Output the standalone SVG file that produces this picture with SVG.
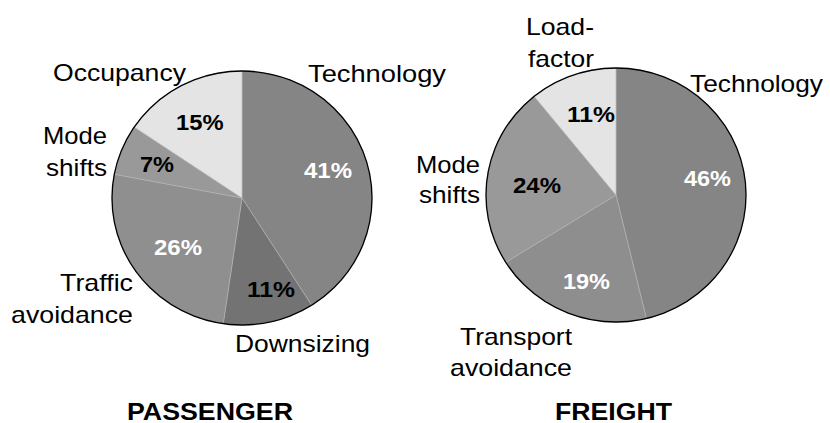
<svg xmlns="http://www.w3.org/2000/svg" width="830" height="423" viewBox="0 0 830 423">
<style>
.lbl{font-family:"Liberation Sans",Arial,sans-serif;font-size:24px;fill:#000}
.pct{font-family:"Liberation Sans",Arial,sans-serif;font-size:22px;font-weight:bold}
.ttl{font-family:"Liberation Sans",Arial,sans-serif;font-size:24px;font-weight:bold;fill:#000}
.w{fill:#fff}.k{fill:#000}
.sl{stroke:#b4b4b4;stroke-width:0.6}
.rim{fill:none;stroke:#000;stroke-width:1.3}
</style>
<rect width="830" height="423" fill="#fff"/>
<g id="passenger">
  <g id="p-technology">
    <path class="sl" fill="#858585" d="M242,198 L242,71 A130,127 0 0 1 311.65,305.23 Z"/>
  </g>
  <g id="p-downsizing">
    <path class="sl" fill="#737373" d="M242,198 L311.65,305.23 A130,127 0 0 1 223.23,323.67 Z"/>
  </g>
  <g id="p-traffic">
    <path class="sl" fill="#8f8f8f" d="M242,198 L223.23,323.67 A130,127 0 0 1 114.3,174.2 Z"/>
  </g>
  <g id="p-mode">
    <path class="sl" fill="#999999" d="M242,198 L114.3,174.2 A130,127 0 0 1 134.23,126.98 Z"/>
  </g>
  <g id="p-occupancy">
    <path class="sl" fill="#e4e4e4" d="M242,198 L134.23,126.98 A130,127 0 0 1 242,71 Z"/>
  </g>
  <ellipse class="rim" cx="242" cy="198" rx="130" ry="127"/>
  <text class="pct w" x="304" y="178" textLength="48" lengthAdjust="spacingAndGlyphs">41%</text>
  <text class="pct k" x="247" y="297" textLength="48" lengthAdjust="spacingAndGlyphs">11%</text>
  <text class="pct w" x="154" y="255" textLength="48" lengthAdjust="spacingAndGlyphs">26%</text>
  <text class="pct k" x="140" y="172" textLength="34" lengthAdjust="spacingAndGlyphs">7%</text>
  <text class="pct k" x="176" y="130" textLength="47.5" lengthAdjust="spacingAndGlyphs">15%</text>
  <text class="lbl" x="308" y="82" textLength="138" lengthAdjust="spacingAndGlyphs">Technology</text>
  <text class="lbl" x="53" y="81" textLength="133" lengthAdjust="spacingAndGlyphs">Occupancy</text>
  <text class="lbl" x="43" y="144" textLength="64" lengthAdjust="spacingAndGlyphs">Mode</text>
  <text class="lbl" x="46" y="176" textLength="61" lengthAdjust="spacingAndGlyphs">shifts</text>
  <text class="lbl" x="60" y="291" textLength="73" lengthAdjust="spacingAndGlyphs">Traffic</text>
  <text class="lbl" x="11" y="323" textLength="122" lengthAdjust="spacingAndGlyphs">avoidance</text>
  <text class="lbl" x="235" y="352" textLength="135" lengthAdjust="spacingAndGlyphs">Downsizing</text>
  <text class="ttl" x="127" y="420" textLength="166" lengthAdjust="spacingAndGlyphs">PASSENGER</text>
</g>
<g id="freight">
  <g id="f-technology">
    <path class="sl" fill="#858585" d="M616,195 L616,68 A130,127 0 0 1 646.35,318.49 Z"/>
  </g>
  <g id="f-transport">
    <path class="sl" fill="#8e8e8e" d="M616,195 L646.35,318.49 A130,127 0 0 1 505.76,262.3 Z"/>
  </g>
  <g id="f-mode">
    <path class="sl" fill="#999999" d="M616,195 L505.76,262.3 A130,127 0 0 1 534.19,96.31 Z"/>
  </g>
  <g id="f-loadfactor">
    <path class="sl" fill="#e4e4e4" d="M616,195 L534.19,96.31 A130,127 0 0 1 616,68 Z"/>
  </g>
  <ellipse class="rim" cx="616" cy="195" rx="130" ry="127"/>
  <text class="pct w" x="684" y="186" textLength="47" lengthAdjust="spacingAndGlyphs">46%</text>
  <text class="pct w" x="563" y="289" textLength="47" lengthAdjust="spacingAndGlyphs">19%</text>
  <text class="pct k" x="513" y="193" textLength="48" lengthAdjust="spacingAndGlyphs">24%</text>
  <text class="pct k" x="567" y="122" textLength="48" lengthAdjust="spacingAndGlyphs">11%</text>
  <text class="lbl" x="526" y="35" textLength="68" lengthAdjust="spacingAndGlyphs">Load-</text>
  <text class="lbl" x="528" y="67" textLength="66" lengthAdjust="spacingAndGlyphs">factor</text>
  <text class="lbl" x="690" y="91.5" textLength="133" lengthAdjust="spacingAndGlyphs">Technology</text>
  <text class="lbl" x="416" y="173" textLength="64" lengthAdjust="spacingAndGlyphs">Mode</text>
  <text class="lbl" x="419" y="203" textLength="61" lengthAdjust="spacingAndGlyphs">shifts</text>
  <text class="lbl" x="460" y="345" textLength="112" lengthAdjust="spacingAndGlyphs">Transport</text>
  <text class="lbl" x="450" y="376" textLength="122" lengthAdjust="spacingAndGlyphs">avoidance</text>
  <text class="ttl" x="555" y="420" textLength="117" lengthAdjust="spacingAndGlyphs">FREIGHT</text>
</g>
</svg>
